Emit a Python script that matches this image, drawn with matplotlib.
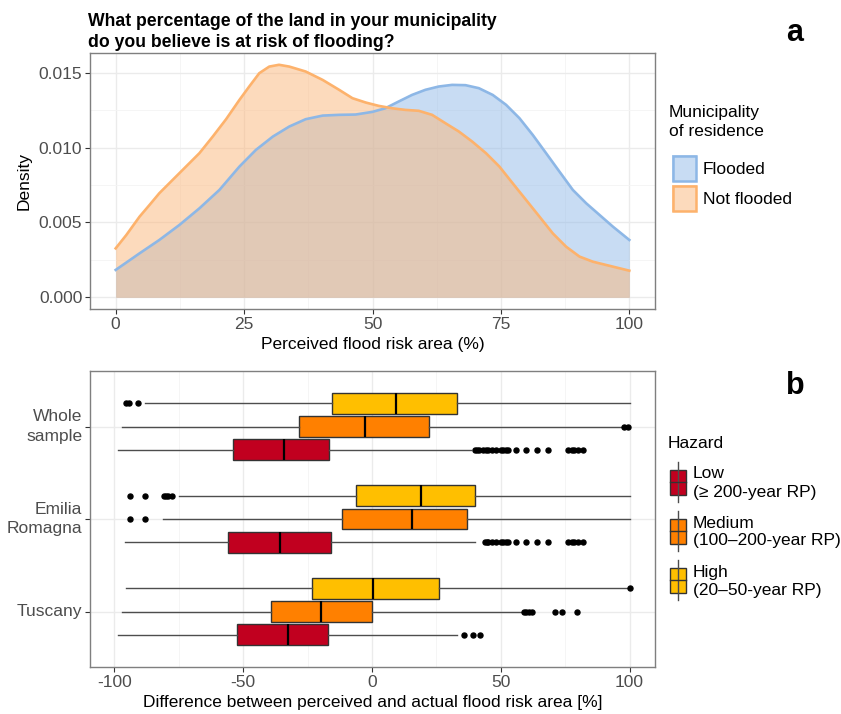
import matplotlib
matplotlib.use("Agg")
import matplotlib.pyplot as plt
from matplotlib.patches import Rectangle
from matplotlib.ticker import MultipleLocator

plt.rcParams['font.family'] = ['Liberation Sans', 'DejaVu Sans']

W, H = 841, 714

# ---------------- Panel a: density of perceived flood-risk area ----------------
flooded_x = [0, 4.66, 8.5, 12.4, 16.3, 20.2, 24.1, 27.3, 30.6, 33.8, 37.0, 40.3, 43.5,
             46.7, 50.0, 52.5, 55.1, 57.7, 60.3, 62.9, 65.5, 68.1, 70.7, 73.4, 76.0,
             78.6, 81.2, 83.8, 86.4, 89.0, 91.6, 94.2, 96.8, 100]
flooded_y = [0.00183, 0.00294, 0.00383, 0.00483, 0.00594, 0.00717, 0.00873, 0.00984,
             0.01073, 0.0114, 0.01189, 0.01213, 0.01218, 0.0122, 0.01238, 0.01262,
             0.01307, 0.01351, 0.01385, 0.01407, 0.01418, 0.01416, 0.01396, 0.01351,
             0.01285, 0.01196, 0.01084, 0.00962, 0.00839, 0.00717, 0.00628, 0.0055,
             0.00472, 0.00383]

notflooded_x = [0, 2.07, 4.66, 6.6, 8.5, 11.1, 13.7, 16.3, 18.9, 21.5, 24.1, 26.0,
                27.96, 29.9, 31.8, 33.8, 37.0, 40.3, 43.5, 46.1, 48.7, 51.2, 53.8,
                56.4, 59.0, 61.6, 64.2, 66.8, 69.4, 72.1, 74.7, 77.3, 79.9, 82.5,
                85.1, 87.7, 90.3, 92.9, 95.5, 98.1, 100]
notflooded_y = [0.00327, 0.00416, 0.00539, 0.00617, 0.00695, 0.00784, 0.00873,
                0.00962, 0.01073, 0.01189, 0.01318, 0.01407, 0.01496, 0.0154,
                0.01552, 0.0154, 0.01507, 0.01451, 0.01385, 0.01329, 0.0130,
                0.01278, 0.01262, 0.01251, 0.01245, 0.01218, 0.01162, 0.01107,
                0.0104, 0.00962, 0.00873, 0.00761, 0.0065, 0.00539, 0.00427,
                0.00338, 0.00272, 0.00238, 0.00216, 0.00194, 0.00178]

# ---------------- Panel b: perceived minus actual risk area ----------------
regions = ["Tuscany", "Emilia\nRomagna", "Whole\nsample"]
hazards = ["Low", "Medium", "High"]
hazard_labels = ["Low\n(\u2265 200-year RP)", "Medium\n(100\u2013200-year RP)",
                 "High\n(20\u201350-year RP)"]

low_q1 = [-52.5, -55.8, -54.1]
low_med = [-32.6, -35.9, -34.3]
low_q3 = [-17.1, -16.0, -16.6]
low_lo = [-98.5, -95.9, -98.5]
low_hi = [33.1, 39.9, 38.5]
low_out = [[35.8, 39.2, 42.0],
           [43.8, 44.6, 45.2, 46.5, 48.2, 50.0, 51.0, 52.0, 53.0, 55.8, 59.9, 64.1,
            68.5, 76.2, 77.6, 78.6, 80.0, 82.0],
           [39.9, 40.8, 41.7, 43.0, 44.1, 45.2, 46.5, 48.2, 50.0, 51.0, 52.0, 53.0,
            55.8, 59.9, 64.1, 68.5, 76.2, 77.6, 78.6, 80.0, 82.0]]

med_q1 = [-39.2, -11.6, -28.2]
med_med = [-19.9, 15.5, -2.8]
med_q3 = [0.0, 36.9, 22.2]
med_lo = [-97.1, -81.2, -97.1]
med_hi = [58.3, 100.0, 97.2]
med_out = [[59.0, 59.9, 60.8, 62.0, 71.0, 73.8, 79.7],
           [-94.1, -88.3],
           [98.0, 99.6]]

high_q1 = [-23.1, -6.2, -15.6]
high_med = [0.3, 19.1, 9.5]
high_q3 = [26.0, 39.9, 33.1]
high_lo = [-95.4, -75.0, -88.3]
high_hi = [99.0, 100.0, 100.0]
high_out = [[100.0],
            [-94.1, -88.3, -80.9, -80.0, -79.2, -77.8],
            [-95.7, -94.5, -90.9]]

hazard_stats = {
    "Low": (low_q1, low_med, low_q3, low_lo, low_hi, low_out),
    "Medium": (med_q1, med_med, med_q3, med_lo, med_hi, med_out),
    "High": (high_q1, high_med, high_q3, high_lo, high_hi, high_out),
}
hazard_colors = {"Low": "#C1001F", "Medium": "#FF8000", "High": "#FFBF00"}
hazard_offset = {"Low": -0.25, "Medium": 0.0, "High": 0.25}

# ---------------- styling ----------------
col_flood_line = "#8DB7E6"
col_flood_fill = "#93BBE8"
col_nf_line = "#FDB26C"
col_nf_fill = "#FBB77B"
grid_major = "#EBEBEB"
grid_minor = "#F4F4F4"
border_col = "#7F7F7F"
tick_col = "#4D4D4D"
FS = 12.5


def px_axes(fig, left, top, right, bottom):
    return fig.add_axes([left / W, 1 - bottom / H, (right - left) / W, (bottom - top) / H])


def style_axes(ax):
    for s in ax.spines.values():
        s.set_color(border_col)
        s.set_linewidth(1.0)
    ax.tick_params(which="major", length=3.5, width=0.8, color="#333333",
                   labelcolor=tick_col, labelsize=FS, pad=2)
    ax.tick_params(which="minor", length=0)
    ax.grid(which="major", color=grid_major, lw=1.0)
    ax.grid(which="minor", color=grid_minor, lw=0.6)
    ax.set_axisbelow(True)


fig = plt.figure(figsize=(W / 100, H / 100), dpi=100)

# ---- panel a ----
ax1 = px_axes(fig, 90, 53, 655, 309)
ax1.fill_between(flooded_x, 0, flooded_y, color=col_flood_fill, alpha=0.5, lw=0)
ax1.plot(flooded_x, flooded_y, color=col_flood_line, lw=1.9, solid_joinstyle="round")
ax1.fill_between(notflooded_x, 0, notflooded_y, color=col_nf_fill, alpha=0.5, lw=0)
ax1.plot(notflooded_x, notflooded_y, color=col_nf_line, lw=1.9, solid_joinstyle="round")
ax1.set_xlim(-5, 105)
ax1.set_ylim(-0.000777, 0.016307)
ax1.xaxis.set_minor_locator(MultipleLocator(12.5))
ax1.yaxis.set_minor_locator(MultipleLocator(0.0025))
ax1.set_yticks([0, 0.005, 0.010, 0.015])
ax1.set_yticklabels(["0.000", "0.005", "0.010", "0.015"])
ax1.set_xticks([0, 25, 50, 75, 100])
style_axes(ax1)
ax1.set_xlabel("Perceived flood risk area (%)", fontsize=FS, labelpad=4)
ax1.set_ylabel("Density", fontsize=FS, labelpad=5)

# ---- panel b ----
ax2 = px_axes(fig, 90, 371, 655, 667)
for hz in hazards:
    q1, md, q3, lo, hi, out = hazard_stats[hz]
    stats = []
    for i in range(len(regions)):
        stats.append(dict(q1=q1[i], med=md[i], q3=q3[i], whislo=lo[i], whishi=hi[i],
                          fliers=out[i]))
    pos = [i + 1 + hazard_offset[hz] for i in range(len(regions))]
    ax2.bxp(stats, positions=pos, widths=0.225, orientation="horizontal",
            showcaps=False, patch_artist=True,
            boxprops=dict(facecolor=hazard_colors[hz], edgecolor="#333333", lw=1.0),
            medianprops=dict(color="black", lw=1.6),
            whiskerprops=dict(color="#4D4D4D", lw=1.0),
            flierprops=dict(marker="o", markersize=3.6, markerfacecolor="black",
                            markeredgecolor="black", lw=0),
            manage_ticks=False, zorder=3)
ax2.set_xlim(-109.5, 109.9)
ax2.set_ylim(0.4, 3.6)
ax2.set_xticks([-100, -50, 0, 50, 100])
ax2.set_xticklabels(["-100", "-50", "0", "50", "100"])
ax2.xaxis.set_minor_locator(MultipleLocator(25))
ax2.set_yticks([1, 2, 3])
ax2.set_yticklabels(regions, ha="right", va="center", linespacing=1.4)
style_axes(ax2)
ax2.set_xlabel("Difference between perceived and actual flood risk area [%]",
               fontsize=FS, labelpad=4)

# ---- titles, panel letters, legends (pixel overlay) ----
ov = fig.add_axes([0, 0, 1, 1], zorder=10)
ov.set_xlim(0, W)
ov.set_ylim(H, 0)
ov.axis("off")
ov.patch.set_alpha(0)

ov.text(88, 32, "What percentage of the land in your municipality\n"
        "do you believe is at risk of flooding?", fontsize=12.7, fontweight="bold",
        ha="left", va="center", linespacing=1.35)
ov.text(795, 33, "a", fontsize=22, fontweight="bold", ha="center", va="center")
ov.text(795, 386, "b", fontsize=22, fontweight="bold", ha="center", va="center")

# legend a
ov.text(669, 122, "Municipality\nof residence", fontsize=FS, ha="left", va="center",
        linespacing=1.25)
for y0, fc, ec, lab in [(155, col_flood_fill, col_flood_line, "Flooded"),
                        (185, col_nf_fill, col_nf_line, "Not flooded")]:
    ov.add_patch(Rectangle((672, y0), 25, 27, facecolor="white", edgecolor="none"))
    ov.add_patch(Rectangle((672, y0), 25, 27, facecolor=fc, alpha=0.5, edgecolor="none"))
    ov.add_patch(Rectangle((673, y0 + 1), 23, 25, facecolor="none", edgecolor=ec, lw=1.8))
    ov.text(703, y0 + 14, lab, fontsize=FS, ha="left", va="center")

# legend b
ov.text(668, 444, "Hazard", fontsize=FS, ha="left", va="center")
for k, hz in enumerate(hazards):
    yc = 482 + k * 49
    ov.plot([678, 678], [yc - 20, yc + 20], color="#4D4D4D", lw=1.0)
    ov.add_patch(Rectangle((670, yc - 12.5), 16, 25, facecolor=hazard_colors[hz],
                           edgecolor="#333333", lw=1.0))
    ov.plot([670, 686], [yc, yc], color="#333333", lw=1.0)
    ov.text(693, yc + 1, hazard_labels[k], fontsize=FS, ha="left", va="center",
            linespacing=1.25)

fig.savefig("out.png", dpi=100)
